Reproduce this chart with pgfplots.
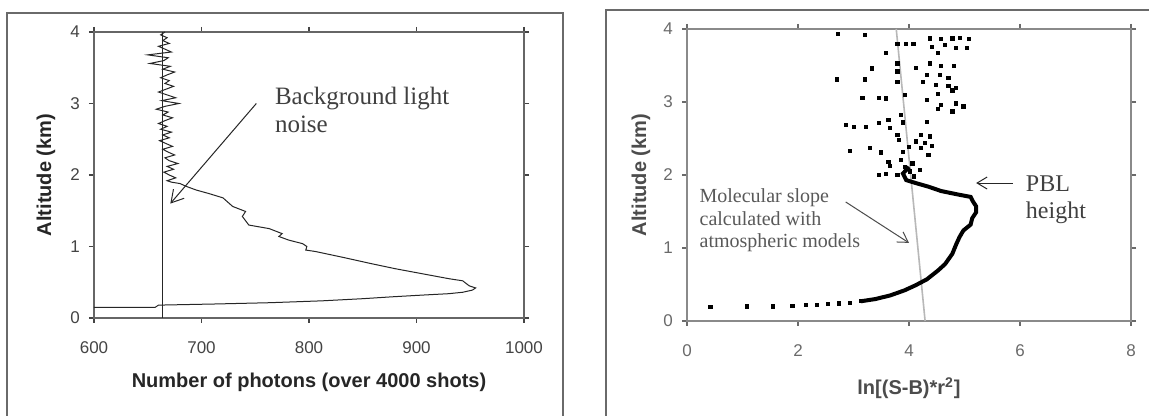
\documentclass[border=0pt]{standalone}
\usepackage{pgfplots}
\pgfplotsset{compat=1.18}
\usepackage{fontspec}
\setmainfont{Liberation Sans}
\newfontfamily\serif{Liberation Serif}
\usetikzlibrary{arrows.meta}
\definecolor{tickgray}{HTML}{444444}
\definecolor{tickgrayB}{HTML}{6A6A6A}
\definecolor{framegrayA}{HTML}{666666}
\definecolor{framegray}{HTML}{8A8A8A}
\definecolor{boxgray}{HTML}{6A6A6A}
\definecolor{molgray}{HTML}{B8B8B8}

\pgfplotstableread{
x y
600 0.15
657 0.15
660 0.18
713 0.196
764 0.214
812 0.24
850 0.27
877 0.296
905 0.32
930 0.34
943 0.36
952 0.39
955 0.42
949 0.45
943 0.52
930 0.55
905 0.62
880 0.69
858 0.76
831 0.85
806 0.93
797 0.95
798 1.00
794 1.04
781 1.09
772 1.14
775 1.18
763 1.25
744 1.30
738 1.42
741 1.49
729 1.56
720 1.68
707 1.74
695 1.79
686 1.84
680 1.88
672 1.90
668 1.92
676 1.96
670 2.00
665 2.04
674 2.08
668 2.12
678 2.16
670 2.20
666 2.24
675 2.28
669 2.32
664 2.36
673 2.40
667 2.44
661 2.48
670 2.52
664 2.56
672 2.60
662 2.64
668 2.68
660 2.72
666 2.76
673 2.80
664 2.84
669 2.88
658 2.92
666 2.96
679 3.00
663 3.04
676 3.08
668 3.12
660 3.16
667 3.20
674 3.24
666 3.28
670 3.32
662 3.36
668 3.40
675 3.44
664 3.48
671 3.52
652 3.56
665 3.60
669 3.64
650 3.68
672 3.72
666 3.76
660 3.80
670 3.84
664 3.88
668 3.92
662 3.96
666 4.00
}\photons

\pgfplotstableread{
x y
3.13 0.27
3.39 0.30
3.66 0.35
3.92 0.42
4.12 0.49
4.32 0.57
4.52 0.69
4.65 0.78
4.78 0.92
4.85 1.05
4.91 1.15
4.98 1.24
5.11 1.32
5.14 1.41
5.21 1.49
5.21 1.57
5.15 1.64
5.11 1.70
4.90 1.73
4.58 1.78
4.35 1.84
4.12 1.89
3.95 1.93
3.89 2.02
4.00 2.11
}\lidarcurve

\pgfplotstableread{
x y
0.42 0.19
1.08 0.20
1.55 0.20
1.90 0.21
2.14 0.22
2.34 0.22
2.54 0.23
2.73 0.24
2.93 0.25
3.13 0.27
2.72 3.93
3.20 3.92
3.79 3.80
3.95 3.80
4.08 3.80
4.38 3.87
4.58 3.86
4.78 3.87
4.91 3.88
5.08 3.86
4.65 3.78
4.85 3.74
5.04 3.74
4.41 3.76
3.59 3.67
4.52 3.67
3.79 3.53
4.12 3.47
4.38 3.53
4.58 3.49
4.81 3.49
3.33 3.46
3.79 3.42
4.32 3.37
4.55 3.37
4.71 3.33
2.70 3.31
3.20 3.31
3.79 3.28
4.25 3.28
4.48 3.23
4.71 3.22
4.84 3.19
3.92 3.10
4.52 3.11
4.78 3.16
3.16 3.06
3.46 3.06
3.59 3.05
4.32 3.03
4.58 2.96
4.85 2.98
4.98 2.94
4.52 2.91
4.78 2.87
3.86 2.82
3.63 2.75
4.32 2.73
2.86 2.69
3.00 2.66
3.22 2.66
3.46 2.71
3.89 2.72
3.66 2.64
3.79 2.55
4.22 2.55
4.38 2.53
3.82 2.48
4.12 2.46
4.28 2.44
4.41 2.40
4.00 2.38
4.22 2.37
2.93 2.33
3.29 2.37
3.49 2.31
3.89 2.32
4.35 2.28
3.63 2.18
3.86 2.21
4.06 2.16
3.66 2.13
3.92 2.11
4.19 2.07
3.46 2.00
3.59 2.02
3.79 2.00
4.02 2.05
4.09 1.98
}\lidarpoints

\begin{document}
\begin{tikzpicture}
\useasboundingbox (0,0) rectangle (574.5pt,208pt);
\clip (0,0) rectangle (574.5pt,208pt);
\fill[white] (0,0) rectangle (574.5pt,208pt);
% outer chart boxes
\draw[boxgray, line width=0.9pt] (3.5pt,-5pt) -- (3.5pt,201.5pt) -- (281.5pt,201.5pt) -- (281.5pt,-5pt);
\draw[boxgray, line width=0.9pt] (303pt,-5pt) -- (303pt,203pt) -- (590pt,203pt);

% ---------------- left panel ----------------
\begin{axis}[
  at={(47pt,49pt)}, anchor=south west,
  width=215pt, height=143pt, scale only axis,
  xmin=600, xmax=1000, ymin=0, ymax=4,
  xtick={600,700,800,900,1000}, ytick={0,1,2,3,4},
  tick align=outside, major tick length=2.5pt,
  axis line style={framegrayA, line width=0.8pt},
  every tick/.style={tickgray, line width=0.6pt},
  tick label style={font=\fontsize{8.5}{10}\selectfont, text=tickgray},
  /pgf/number format/assume math mode=true,
  /pgf/number format/1000 sep={},
  xticklabel style={yshift=-6pt},
  yticklabel style={xshift=-1pt},
  xlabel={\bfseries Number of photons (over 4000 shots)},
  ylabel={\bfseries Altitude (km)},
  label style={font=\fontsize{10}{12}\selectfont, text=black!85},
  xlabel style={at={(axis description cs:0.5,0)}, anchor=base, yshift=-35pt},
  ylabel style={at={(axis description cs:-0.112,0.5)}, anchor=center},
  clip=false,
]
\addplot[black!85, line width=0.5pt] table[x=x,y=y] {\photons};
\addplot[black!85, line width=0.5pt] coordinates {(664,0) (664,4)};
\draw[black!85, line width=0.5pt, -{Straight Barb[length=6pt,width=7pt]}] (axis cs:751,3.0) -- (axis cs:671,1.6);
\node[anchor=base west, inner sep=0pt, font=\serif\fontsize{12.5}{14}\selectfont, text=black!75] at (axis cs:768,2.99) {Background light};
\node[anchor=base west, inner sep=0pt, font=\serif\fontsize{12.5}{14}\selectfont, text=black!75] at (axis cs:768,2.59) {noise};
\end{axis}

% ---------------- right panel ----------------
\begin{axis}[
  at={(343.5pt,47.5pt)}, anchor=south west,
  width=222pt, height=146pt, scale only axis,
  xmin=0, xmax=8, ymin=0, ymax=4,
  xtick={0,2,4,6,8}, ytick={0,1,2,3,4},
  tick align=outside, major tick length=2.5pt,
  axis line style={framegray, line width=1.1pt},
  every tick/.style={tickgrayB, line width=0.6pt},
  tick label style={font=\fontsize{8.5}{10}\selectfont, text=tickgrayB},
  /pgf/number format/assume math mode=true,
  xticklabel style={yshift=-6pt},
  yticklabel style={xshift=-1pt},
  xlabel={\bfseries ln[(S-B)*r\textsuperscript{2}]},
  ylabel={\bfseries Altitude (km)},
  label style={font=\fontsize{10}{12}\selectfont, text=black!70},
  xlabel style={at={(axis description cs:0.5,0)}, anchor=base, yshift=-37pt},
  ylabel style={at={(axis description cs:-0.104,0.5)}, anchor=center},
  clip=false,
]
\addplot[molgray, line width=0.8pt] coordinates {(4.29,0) (3.77,4)};
\addplot[black, line width=2pt] table[x=x,y=y] {\lidarcurve};
\addplot[only marks, mark=square*, mark size=0.8pt, black] table[x=x,y=y] {\lidarpoints};
\draw[black!70, line width=0.5pt, -{Straight Barb[length=5pt,width=6pt]}] (axis cs:2.86,1.63) -- (axis cs:4.0,1.07);
\draw[black!85, line width=0.5pt, -{Straight Barb[length=5pt,width=6pt]}] (axis cs:5.87,1.89) -- (axis cs:5.21,1.89);
\node[anchor=base west, inner sep=0pt, font=\serif\fontsize{10}{11.5}\selectfont, text=black!65] at (axis cs:0.22,1.62) {Molecular slope};
\node[anchor=base west, inner sep=0pt, font=\serif\fontsize{10}{11.5}\selectfont, text=black!65] at (axis cs:0.22,1.31) {calculated with};
\node[anchor=base west, inner sep=0pt, font=\serif\fontsize{10}{11.5}\selectfont, text=black!65] at (axis cs:0.22,1.00) {atmospheric models};
\node[anchor=base west, inner sep=0pt, font=\serif\fontsize{12}{14}\selectfont, text=black!75] at (axis cs:6.1,1.78) {PBL};
\node[anchor=base west, inner sep=0pt, font=\serif\fontsize{12}{14}\selectfont, text=black!75] at (axis cs:6.1,1.40) {height};
\end{axis}
\end{tikzpicture}
\end{document}
